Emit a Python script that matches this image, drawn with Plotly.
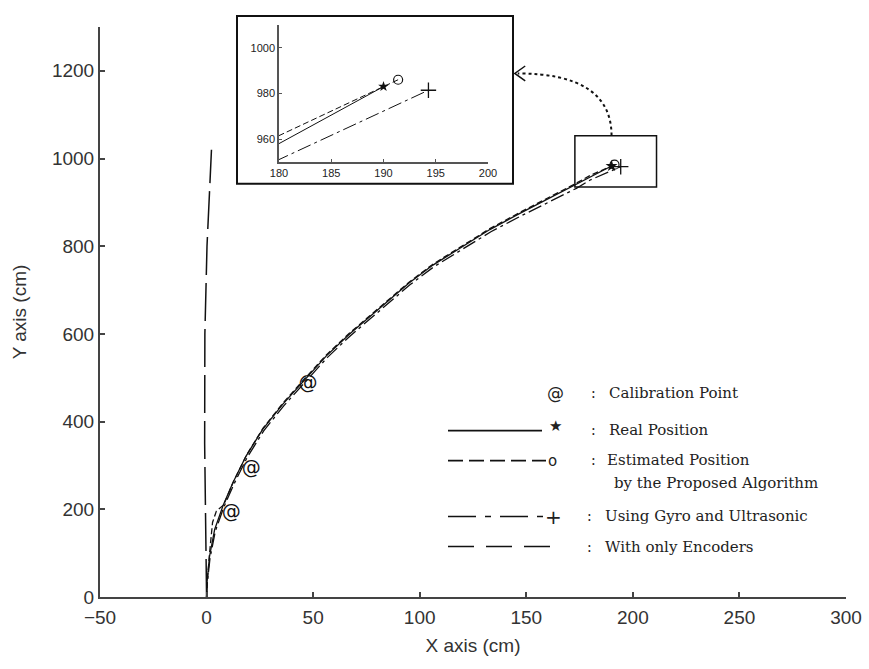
import plotly.graph_objects as go

# ---------------- data ----------------
real_x = [0, 0.2, 1.4, 3.8, 7.7, 12.4, 18.6, 26.4, 35.8, 46.8, 56.2, 67.1, 83.6, 95, 106.2, 120.3,
          132.9, 147, 161, 172.8, 180, 190]
real_y = [0, 33, 93, 154, 208, 261, 322, 383, 440, 500, 550, 600, 668, 716, 757, 800,
          838, 875, 910, 940, 958, 983]

est_x = [0, 0.4, 1.5, 2.8, 4.6, 8.0, 12.6, 18.8, 26.5, 35.8, 46.8, 56.2, 67.1, 83.6, 95, 106.2,
         120.3, 132.9, 147, 161, 172.8, 180, 191.4]
est_y = [0, 40, 105, 170, 196, 210, 263, 324, 385, 442, 502, 552, 602, 670, 718, 759,
         802, 840, 877, 912, 942, 961.5, 986]

gyro_x = [0, 0.3, 1.6, 4.1, 8.0, 12.8, 19.0, 26.8, 36.2, 47.2, 56.6, 67.5, 84, 95.4, 106.6,
          120.8, 133.4, 147.5, 161.6, 173.5, 180, 194.3]
gyro_y = [0, 30, 88, 150, 204, 257, 318, 379, 436, 496, 546, 596, 664, 712, 753,
          796, 833, 869, 903, 932, 951, 981.4]

enc_x = [0, -0.5, -0.9, -0.8, 0.2, 2.3]
enc_y = [0, 150, 350, 600, 800, 1020]

calib_x = [11.6, 21.0, 47.6]
calib_y = [192, 291, 486]

main_xticks = [-50, 0, 50, 100, 150, 200, 250, 300]
main_yticks = [0, 200, 400, 600, 800, 1000, 1200]
inset_xticks = [180, 185, 190, 195, 200]
inset_yticks = [960, 980, 1000]

legend_labels = ["Calibration Point", "Real Position", "Estimated Position",
                 "by the Proposed Algorithm", "Using Gyro and Ultrasonic", "With only Encoders"]

# ---------------- layout geometry ----------------
W, H = 869, 669
ML, MR, MT, MB = 100, 23, 10, 71.5
PW = W - ML - MR
PH = H - MT - MB


def px(xp):
    return (xp - ML) / PW


def py(yp):
    return (H - MB - yp) / PH


fig = go.Figure()

BLACK = "#111111"


def add_series(xa, ya, xs, ys, dash, width):
    fig.add_trace(go.Scatter(x=xs, y=ys, mode="lines", xaxis=xa, yaxis=ya,
                             line=dict(color=BLACK, width=width, dash=dash),
                             showlegend=False, hoverinfo="skip"))


for xa, ya, w in (("x", "y", 1.3), ("x2", "y2", 1.0)):
    add_series(xa, ya, gyro_x, gyro_y, "14px,4px,3px,4px", w)
    add_series(xa, ya, est_x, est_y, "6px,3px", w)
    add_series(xa, ya, real_x, real_y, "solid", w)
    fig.add_trace(go.Scatter(x=[real_x[-1]], y=[real_y[-1]], mode="markers", xaxis=xa, yaxis=ya,
                             marker=dict(symbol="star", size=9 if xa == "x" else 8, color=BLACK),
                             showlegend=False, hoverinfo="skip"))
    fig.add_trace(go.Scatter(x=[est_x[-1]], y=[est_y[-1]], mode="markers", xaxis=xa, yaxis=ya,
                             marker=dict(symbol="circle-open", size=9,
                                         color=BLACK, line=dict(width=1.2)),
                             showlegend=False, hoverinfo="skip"))
    fig.add_trace(go.Scatter(x=[gyro_x[-1]], y=[gyro_y[-1]], mode="markers", xaxis=xa, yaxis=ya,
                             marker=dict(symbol="cross-thin", size=11, color=BLACK,
                                         line=dict(width=1.3, color=BLACK)),
                             showlegend=False, hoverinfo="skip"))

add_series("x", "y", enc_x, enc_y, "38px,8px", 1.5)

fig.add_trace(go.Scatter(x=calib_x, y=calib_y, mode="text", text=["@"] * len(calib_x),
                         textfont=dict(family="DejaVu Sans", size=19, color=BLACK),
                         showlegend=False, hoverinfo="skip"))

axis_common = dict(showline=True, linecolor="#444444", linewidth=2, ticks="inside",
                   tickcolor="#444444", showgrid=False, zeroline=False, mirror=False)
inset_common = dict(showline=True, linecolor="#555555", linewidth=1.5, ticks="inside",
                    tickcolor="#555555", showgrid=False, zeroline=False, ticklen=3, tickwidth=1,
                    tickfont=dict(size=11, color="#222222",
                                  family="Liberation Sans, Arial, sans-serif"))

fig.update_layout(
    template="none",
    width=W, height=H,
    margin=dict(l=ML, r=MR, t=MT, b=MB, autoexpand=False),
    paper_bgcolor="white", plot_bgcolor="white",
    font=dict(family="Liberation Sans, Arial, sans-serif", color="#333333"),
    xaxis=dict(range=[-50, 300], tickvals=main_xticks, ticklen=5, tickwidth=1.5,
               tickfont=dict(size=19, color="#333333"), domain=[0, 1], ticklabelstandoff=2,
               title=dict(text="X axis (cm)", font=dict(size=19, color="#333333"), standoff=12),
               **axis_common),
    yaxis=dict(range=[0, 1300], tickvals=main_yticks, ticklen=5, tickwidth=1.5,
               tickfont=dict(size=19, color="#333333"), domain=[0, py(27)],
               title=dict(text="Y axis (cm)", font=dict(size=19, color="#333333"), standoff=20),
               **axis_common),
    xaxis2=dict(range=[180, 200], tickvals=inset_xticks,
                domain=[px(279), px(488)], anchor="y2", **inset_common),
    yaxis2=dict(range=[950, 1010], tickvals=inset_yticks,
                domain=[py(162), py(25)], anchor="x2", **inset_common),
)

shapes = []
shapes.append(dict(type="rect", xref="paper", yref="paper",
                   x0=px(237), x1=px(513), y0=py(184), y1=py(16),
                   line=dict(color=BLACK, width=2)))
shapes.append(dict(type="rect", xref="x", yref="y", x0=172.8, x1=211.1, y0=935, y1=1052,
                   line=dict(color=BLACK, width=1.5)))
shapes.append(dict(type="path", xref="x", yref="y",
                   path="M 190,1052 Q 190,1194 146,1194",
                   line=dict(color=BLACK, width=2, dash="dot")))
shapes.append(dict(type="path", xref="x", yref="y",
                   path="M 149.5,1211 L 144.6,1194 L 149.5,1177",
                   line=dict(color=BLACK, width=1.5)))


def hline(x0p, x1p, yp, dash, width=1.6):
    shapes.append(dict(type="line", xref="paper", yref="paper",
                       x0=px(x0p), x1=px(x1p), y0=py(yp), y1=py(yp),
                       line=dict(color=BLACK, width=width, dash=dash)))


hline(448, 542, 431, "solid")
hline(448, 546, 461, "15px,6px")
hline(448, 543, 517, "28px,9px,6px,9px")
hline(448, 556, 547, "26px,12px")

fig.update_layout(shapes=shapes)

ann = []
SERIF = "DejaVu Serif"


def text(xp, yp, s, size=15, family=SERIF, xanchor="left"):
    ann.append(dict(xref="paper", yref="paper", x=px(xp), y=py(yp), text=s, showarrow=False,
                    xanchor=xanchor, yanchor="middle",
                    font=dict(family=family, size=size, color="#222222")))


text(555, 393, "@", size=17, family="DejaVu Sans", xanchor="center")
text(555, 426, "★", size=15, family="DejaVu Sans", xanchor="center")
text(552, 461, "o", size=15, family="DejaVu Sans", xanchor="center")
text(553, 517, "+", size=20, family="DejaVu Sans", xanchor="center")

colon_x = [593, 593, 593, None, 589, 589]
text_x = [607, 607, 605, 612, 603, 603]
text_y = [393, 430, 460, 483, 516, 547]
for lab, cx, tx, ty in zip(legend_labels, colon_x, text_x, text_y):
    if cx is not None:
        text(cx, ty, ":", size=14, xanchor="center")
    text(tx, ty, lab, size=15)

fig.update_layout(annotations=ann)

fig.write_html("out.html")
